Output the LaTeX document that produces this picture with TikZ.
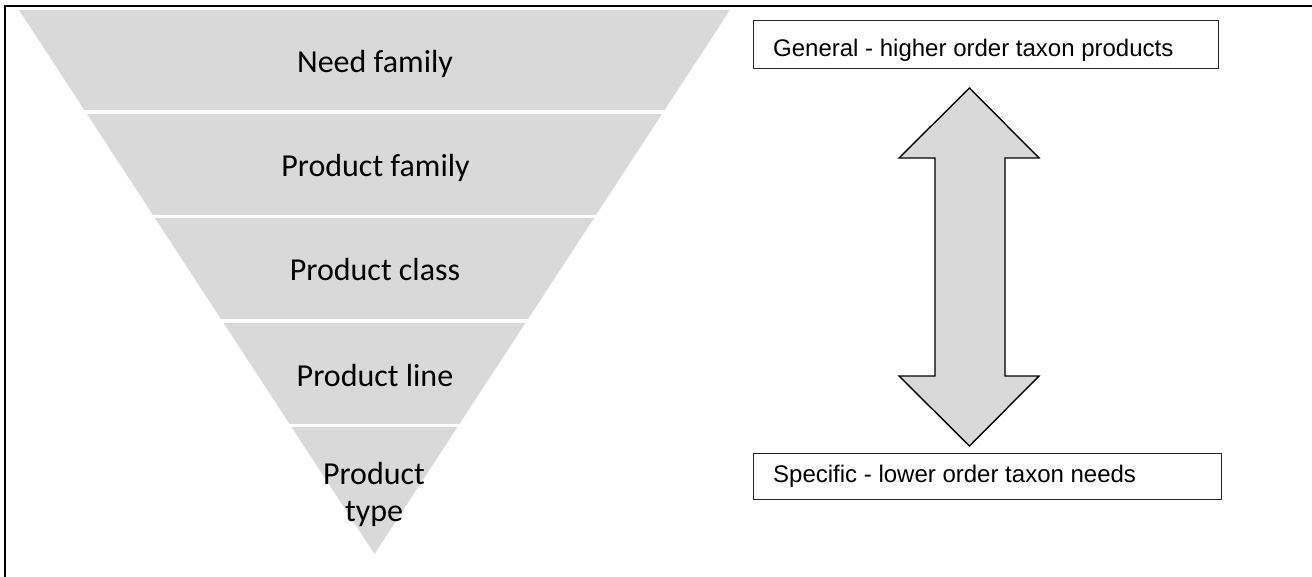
\documentclass[tikz,border=0pt]{standalone}
\usepackage{fontspec}
\setmainfont{Carlito}
\newfontfamily\arialfont{Liberation Sans}
\definecolor{bandgray}{HTML}{D9D9D9}
\begin{document}
\begin{tikzpicture}[x=1pt,y=-1pt,
  level/.style={font=\fontsize{32}{37}\selectfont, anchor=base, align=center, text=black, inner sep=0pt},
  labelbox/.style={draw=black!85, line width=1pt, fill=white, minimum height=48pt, anchor=north west, inner sep=0pt},
  boxtext/.style={font=\arialfont\fontsize{24}{28}\selectfont, anchor=base west, inner sep=0pt},
  frameline/.style={line width=2pt, black}
]
\useasboundingbox (0,0) rectangle (1312,577);

% frame (top and left edges)
\draw[frameline] (5,6) -- (1312,6);
\draw[frameline] (5,5) -- (5,577);

% inverted pyramid, split into five bands
\begin{scope}
  \clip (19,10) -- (730,10) -- (374.5,554) -- cycle;
  \fill[bandgray] (0,10)    rectangle (800,110.2);
  \fill[bandgray] (0,113.8) rectangle (800,214.8);
  \fill[bandgray] (0,218.3) rectangle (800,319.3);
  \fill[bandgray] (0,322.8) rectangle (800,423.8);
  \fill[bandgray] (0,427.3) rectangle (800,560);
\end{scope}

\node[level] (need)  at (375,72.5)  {Need family};
\node[level] (pfam)  at (375.5,176.5) {Product family};
\node[level] (pcls)  at (375,281) {Product class};
\node[level] (pline) at (375,386) {Product line};
\node[level] (ptype) at (374,521.5) {Product\\type};

% label boxes
\node[labelbox, minimum width=465pt] (general) at (753,20) {};
\node[boxtext] (gentext) at (773,56.5) {General - higher order taxon products};
\node[labelbox, minimum width=468pt, minimum height=46pt] (specific) at (753,453) {};
\node[boxtext] (spectext) at (773,482.5) {Specific - lower order taxon needs};

% double-headed block arrow
\draw[line width=1.4pt, fill=bandgray, line join=miter]
  (969.5,88) -- (1039,158) -- (1005,158) -- (1005,376) -- (1039,376)
  -- (969.5,446) -- (899,376) -- (935,376) -- (935,158) -- (899,158) -- cycle;
\end{tikzpicture}
\end{document}
